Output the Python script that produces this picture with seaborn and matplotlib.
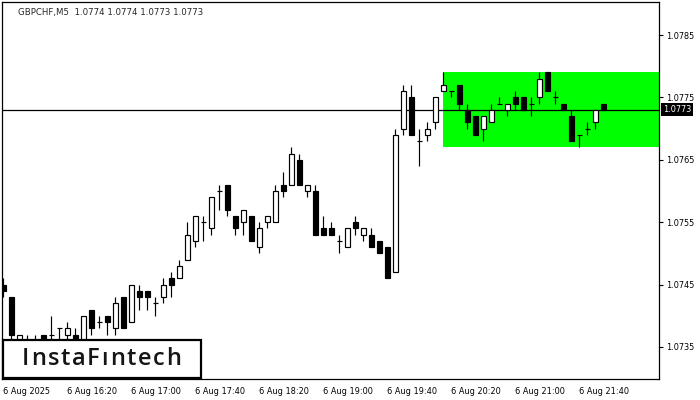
import numpy as np
import matplotlib
matplotlib.use("Agg")
import matplotlib.pyplot as plt
import matplotlib.transforms as mtransforms
from matplotlib.patches import Rectangle
import seaborn as sns

# GBPCHF M5 candles, 6 Aug 2025 15:40 .. 21:55
opens = [1.0745, 1.0743, 1.0735, 1.0736, 1.0735, 1.0737, 1.0737, 1.0738, 1.0737, 1.0737,
         1.0735, 1.0741, 1.0739, 1.0740, 1.0738, 1.0743, 1.0739, 1.0744, 1.0744, 1.0742,
         1.0743, 1.0746, 1.0746, 1.0749, 1.0752, 1.0755, 1.0754, 1.0760, 1.0761, 1.0756,
         1.0755, 1.0756, 1.0751, 1.0755, 1.0755, 1.0761, 1.0761, 1.0765, 1.0760, 1.0760,
         1.0754, 1.0754, 1.0752, 1.0751, 1.0755, 1.0753, 1.0753, 1.0752, 1.0751, 1.0747,
         1.0770, 1.0775, 1.0768, 1.0769, 1.0771, 1.0776, 1.0776, 1.0777, 1.0773, 1.0772,
         1.0770, 1.0771, 1.0774, 1.0773, 1.0775, 1.0775, 1.0774, 1.0775, 1.0779, 1.0775,
         1.0774, 1.0772, 1.0769, 1.0770, 1.0771, 1.0774]
highs = [1.0746, 1.0743, 1.0737, 1.0737, 1.0737, 1.0737, 1.0740, 1.0738, 1.0739, 1.0738,
         1.0740, 1.0741, 1.0740, 1.0740, 1.0743, 1.0743, 1.0745, 1.0745, 1.0744, 1.0743,
         1.0746, 1.0747, 1.0749, 1.0755, 1.0756, 1.0756, 1.0759, 1.0761, 1.0761, 1.0756,
         1.0757, 1.0756, 1.0755, 1.0756, 1.0761, 1.0763, 1.0767, 1.0766, 1.0761, 1.0761,
         1.0756, 1.0755, 1.0753, 1.0754, 1.0756, 1.0754, 1.0754, 1.0752, 1.0751, 1.0770,
         1.0777, 1.0777, 1.0770, 1.0771, 1.0775, 1.0779, 1.0776, 1.0777, 1.0774, 1.0772,
         1.0772, 1.0774, 1.0775, 1.0774, 1.0776, 1.0775, 1.0775, 1.0779, 1.0779, 1.0776,
         1.0774, 1.0773, 1.0769, 1.0771, 1.0773, 1.0774]
lows = [1.0743, 1.0736, 1.0735, 1.0734, 1.0734, 1.0734, 1.0735, 1.0736, 1.0736, 1.0735,
        1.0734, 1.0737, 1.0738, 1.0737, 1.0737, 1.0738, 1.0739, 1.0741, 1.0741, 1.0740,
        1.0742, 1.0743, 1.0746, 1.0749, 1.0751, 1.0752, 1.0753, 1.0757, 1.0756, 1.0753,
        1.0753, 1.0752, 1.0750, 1.0754, 1.0755, 1.0759, 1.0761, 1.0761, 1.0759, 1.0753,
        1.0753, 1.0753, 1.0750, 1.0751, 1.0753, 1.0752, 1.0751, 1.0750, 1.0746, 1.0747,
        1.0769, 1.0769, 1.0764, 1.0768, 1.0770, 1.0776, 1.0775, 1.0773, 1.0770, 1.0769,
        1.0768, 1.0771, 1.0774, 1.0772, 1.0773, 1.0773, 1.0772, 1.0774, 1.0776, 1.0774,
        1.0773, 1.0768, 1.0767, 1.0769, 1.0770, 1.0773]
closes = [1.0744, 1.0737, 1.0737, 1.0735, 1.0736, 1.0735, 1.0737, 1.0738, 1.0738, 1.0736,
          1.0740, 1.0738, 1.0739, 1.0739, 1.0742, 1.0738, 1.0745, 1.0743, 1.0743, 1.0742,
          1.0745, 1.0745, 1.0748, 1.0753, 1.0756, 1.0755, 1.0759, 1.0760, 1.0757, 1.0754,
          1.0757, 1.0752, 1.0754, 1.0756, 1.0760, 1.0760, 1.0766, 1.0761, 1.0761, 1.0753,
          1.0753, 1.0753, 1.0752, 1.0754, 1.0754, 1.0754, 1.0751, 1.0750, 1.0746, 1.0769,
          1.0776, 1.0769, 1.0768, 1.0770, 1.0775, 1.0777, 1.0776, 1.0774, 1.0771, 1.0769,
          1.0772, 1.0773, 1.0774, 1.0774, 1.0774, 1.0773, 1.0774, 1.0778, 1.0776, 1.0775,
          1.0773, 1.0768, 1.0769, 1.0770, 1.0773, 1.0773]

x_tick_bars = [0, 8, 16, 24, 32, 40, 48, 56, 64, 72]
x_tick_labels = ["6 Aug 2025", "6 Aug 16:20", "6 Aug 17:00", "6 Aug 17:40", "6 Aug 18:20",
                 "6 Aug 19:00", "6 Aug 19:40", "6 Aug 20:20", "6 Aug 21:00", "6 Aug 21:40"]
y_ticks = [1.0735, 1.0745, 1.0755, 1.0765, 1.0775, 1.0785]

# pattern rectangle and current price
rect_start_bar = 54.93
rect_top = 1.07791
rect_bottom = 1.07671
last_price = 1.0773
title = "GBPCHF,M5  1.0774 1.0774 1.0773 1.0773"
logo = "InstaF\u0131ntech"

sns.set_style("white")
plt.rcParams['font.family'] = ['DejaVu Sans']

bars = np.arange(len(opens))
o = np.array(opens); h = np.array(highs); l = np.array(lows); c = np.array(closes)
body_colors = ['white' if cc >= oo else 'black' for oo, cc in zip(o, c)]

fig = plt.figure(figsize=(7, 4), dpi=100)
ax = fig.add_axes([2/700, 21/400, 657/700, 377/400])

# green box
ax.add_patch(Rectangle((rect_start_bar, rect_bottom), 100, rect_top - rect_bottom,
                       facecolor='#00ff00', edgecolor='none', zorder=0))
ax.axhline(last_price, color='black', lw=0.9, zorder=1)

# wicks + bodies
ax.vlines(bars, l, h, color='black', lw=0.85, zorder=2)
ax.bar(bars, np.abs(c - o), bottom=np.minimum(o, c), width=0.56,
       color=body_colors, edgecolor='black', linewidth=0.85, zorder=3)

ax.set_xlim(-0.16, 81.96)
ax.set_ylim(1.072987, 1.079029)

ax.yaxis.tick_right()
ax.set_yticks(y_ticks)
ax.set_yticklabels([f"{v:.4f}" for v in y_ticks])
ax.set_xticks(x_tick_bars)
ax.set_xticklabels(x_tick_labels, ha='left')
ax.tick_params(axis='both', direction='out', length=3, width=0.8, labelsize=5.9,
               colors='black', pad=2)
ax.tick_params(axis='x', pad=3)
for s in ax.spines.values():
    s.set_color('black')
    s.set_linewidth(0.9)

ax.text(0.024, 0.973, title, transform=ax.transAxes, fontsize=6.2, va='center', ha='left')

# current price tag on the right scale
trans = mtransforms.blended_transform_factory(ax.transAxes, ax.transData)
ax.text(1.006, last_price, f"{last_price:.4f}", transform=trans, fontsize=5.9, color='white',
        va='center', ha='left', clip_on=False,
        bbox=dict(boxstyle='square,pad=0.25', facecolor='black', edgecolor='none'))

# logo box, letter-spaced text
fig.patches.append(Rectangle((3/700, 22/400), 198/700, 38/400, transform=fig.transFigure,
                             facecolor='white', edgecolor='black', linewidth=1.6, zorder=5))
logo_font = dict(fontsize=17, family=['Open Sans', 'DejaVu Sans'], weight='semibold')
renderer = fig.canvas.get_renderer()
widths = []
for ch in logo:
    t = fig.text(0, 0, ch, **logo_font)
    widths.append(t.get_window_extent(renderer).width)
    t.remove()
x0, x1 = 22, 181
gap = (x1 - x0 - sum(widths)) / (len(logo) - 1)
xp = x0
for ch, w in zip(logo, widths):
    fig.text(xp / 700, 1 - 359 / 400, ch, color='#151515', ha='left', va='center',
             zorder=6, **logo_font)
    xp += w + gap

fig.savefig("out.png", dpi=100)
